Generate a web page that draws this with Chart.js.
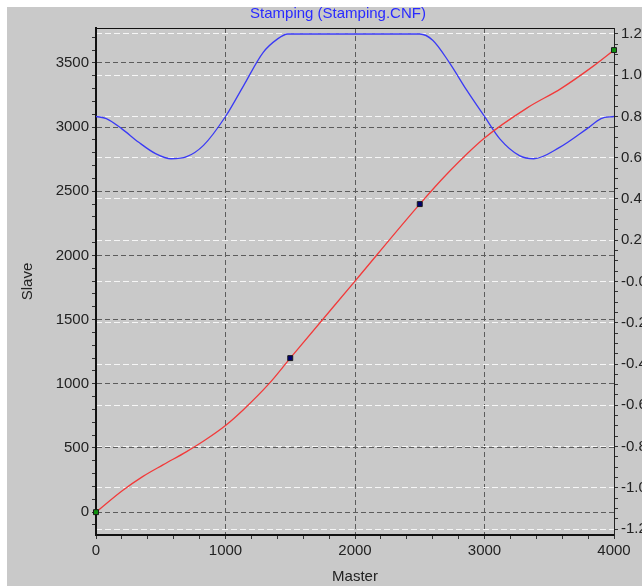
<!DOCTYPE html>
<html>
<head>
<meta charset="utf-8">
<script src="https://cdn.jsdelivr.net/npm/chart.js@4"></script>
<style>
  html, body { margin: 0; padding: 0; background: #fff; overflow: hidden; }
  #wrap { position: absolute; left: 0; top: 0; width: 676px; height: 586px; }
</style>
</head>
<body>
<div id="wrap"><canvas id="camChart" width="676" height="586"></canvas></div>
<script>
// red curve: slave position against master position
const masterRed = [0, 200, 360, 520, 700, 840, 1000, 1140, 1340, 1500, 2000, 2500, 2710, 3000, 3330, 3590, 3840, 4000];
const slaveValues = [0, 165, 277, 370, 472, 560, 675, 800, 1005, 1200, 1800, 2400, 2635, 2915, 3150, 3300, 3475, 3600];

// blue curve: ratio on the right axis
const masterBlue = [0, 80, 200, 330, 460, 580, 700, 830, 1000, 1140, 1290, 1400, 1480, 2500, 2600, 2730, 2860, 3000, 3120, 3270, 3380, 3580, 3790, 3900, 4000];
const ratioValues = [0.8, 0.79, 0.74, 0.675, 0.62, 0.595, 0.605, 0.66, 0.8, 0.95, 1.11, 1.175, 1.2, 1.2, 1.17, 1.06, 0.93, 0.8, 0.69, 0.61, 0.595, 0.65, 0.74, 0.79, 0.8];

// key points drawn as squares
const keyMaster = [0, 1500, 2500, 4000];
const keySlave = [0, 1200, 2400, 3600];
const keyColors = ['#109010', '#000070', '#000070', '#109010'];

// tick labels
const masterTicks = [0, 1000, 2000, 3000, 4000];
const slaveTicks = [0, 500, 1000, 1500, 2000, 2500, 3000, 3500];
const ratioTicks = [1.2, 1.0, 0.8, 0.6, 0.4, 0.2, 0, -0.2, -0.4, -0.6, -0.8, -1.0, -1.2];
const ratioLabels = ['1.20', '1.00', '0.80', '0.60', '0.40', '0.20', '-0.00', '-0.20', '-0.40', '-0.60', '-0.80', '-1.00', '-1.20'];

const DARK_GRID = '#5c5c5c';
const LIGHT_GRID = '#f6f6f6';
const CLEAR = 'rgba(0,0,0,0)';

const near = (a, b) => Math.abs(a - b) < 1e-6;
const isIn = (list, v) => list.some(t => near(t, v));

function minorTicks(scale, step, majors) {
    const out = [];
    const start = Math.ceil(scale.min / step - 1e-9);
    const end = Math.floor(scale.max / step + 1e-9);
    for (let i = start; i <= end; i++) {
        out.push({ value: Math.round(i * step * 1000) / 1000 });
    }
    majors.forEach(m => { if (!out.some(t => near(t.value, m))) out.push({ value: m }); });
    return out.sort((a, b) => a.value - b.value);
}

const panelBackground = {
    id: 'panelBackground',
    beforeDraw(chart) {
        const { ctx, width, height } = chart;
        ctx.save();
        ctx.fillStyle = '#ffffff';
        ctx.fillRect(0, 0, width, height);
        ctx.fillStyle = '#c9c9c9';
        ctx.fillRect(7, 7, width - 7, height - 7);
        ctx.restore();
    },
    afterDraw(chart) {
        const { ctx, chartArea } = chart;
        ctx.save();
        ctx.strokeStyle = '#111';
        ctx.lineWidth = 1;
        ctx.beginPath();
        ctx.moveTo(chartArea.left, chartArea.top + 0.5);
        ctx.lineTo(chartArea.right, chartArea.top + 0.5);
        ctx.stroke();
        ctx.restore();
    }
};

Chart.defaults.font.family = "'Liberation Sans', Arial, sans-serif";
Chart.defaults.font.size = 15;
Chart.defaults.color = '#222';

new Chart(document.getElementById('camChart'), {
    type: 'line',
    data: {
        datasets: [
            {
                label: 'Key points',
                data: keyMaster.map((m, i) => ({ x: m, y: keySlave[i] })),
                yAxisID: 'y',
                showLine: false,
                pointStyle: 'rect',
                pointRadius: 3.5,
                pointBackgroundColor: keyColors,
                pointBorderColor: '#1a1a1a',
                pointBorderWidth: 1,
                clip: false,
                order: 0
            },
            {
                label: 'Slave',
                data: masterRed.map((m, i) => ({ x: m, y: slaveValues[i] })),
                yAxisID: 'y',
                borderColor: '#f23a3a',
                borderWidth: 1.3,
                pointRadius: 0,
                cubicInterpolationMode: 'monotone',
                order: 1
            },
            {
                label: 'Ratio',
                data: masterBlue.map((m, i) => ({ x: m, y: ratioValues[i] })),
                yAxisID: 'y2',
                borderColor: '#3a3af5',
                borderWidth: 1.3,
                pointRadius: 0,
                cubicInterpolationMode: 'monotone',
                order: 2
            }
        ]
    },
    options: {
        responsive: false,
        animation: false,
        layout: { padding: 0 },
        plugins: {
            legend: { display: false },
            tooltip: { enabled: false },
            title: {
                display: true,
                text: 'Stamping (Stamping.CNF)',
                color: '#2a2aff',
                font: { size: 15, weight: 'normal' },
                padding: { top: 5, bottom: 5 }
            }
        },
        scales: {
            x: {
                type: 'linear',
                position: 'bottom',
                min: 0,
                max: 4000,
                afterBuildTicks: s => { s.ticks = minorTicks(s, 200, masterTicks); },
                afterFit: s => { s.height = 51; },
                ticks: {
                    autoSkip: false,
                    maxRotation: 0,
                    padding: 3,
                    callback: v => isIn(masterTicks, v) ? String(v) : ''
                },
                grid: {
                    color: c => (c.tick && isIn([1000, 2000, 3000], c.tick.value)) ? DARK_GRID : CLEAR,
                    tickColor: '#333',
                    tickLength: 4,
                    lineWidth: 1
                },
                border: { color: '#111', width: 2, dash: [5, 3] },
                title: { display: true, text: 'Master', padding: { top: 0, bottom: 0 } }
            },
            y: {
                type: 'linear',
                position: 'left',
                min: -178,
                max: 3772,
                afterBuildTicks: s => { s.ticks = minorTicks(s, 100, slaveTicks); },
                afterFit: s => { s.width = 96; },
                ticks: {
                    autoSkip: false,
                    padding: 3,
                    callback: v => isIn(slaveTicks, v) ? String(v) : ''
                },
                grid: {
                    color: c => (c.tick && isIn(slaveTicks, c.tick.value)) ? DARK_GRID : CLEAR,
                    tickColor: '#333',
                    tickLength: 4,
                    lineWidth: 1
                },
                border: { color: '#111', width: 2, dash: [5, 3] },
                title: { display: true, text: 'Slave', padding: { top: 19, bottom: 0 } }
            },
            y2: {
                type: 'linear',
                position: 'right',
                min: -1.229,
                max: 1.229,
                afterBuildTicks: s => { s.ticks = minorTicks(s, 0.05, ratioTicks); },
                afterFit: s => { s.width = 62; },
                ticks: {
                    autoSkip: false,
                    padding: 3,
                    callback: v => {
                        const i = ratioTicks.findIndex(t => near(t, v));
                        return i >= 0 ? ratioLabels[i] : '';
                    }
                },
                grid: {
                    color: c => (c.tick && isIn(ratioTicks, c.tick.value)) ? LIGHT_GRID : CLEAR,
                    tickColor: '#333',
                    tickLength: 4,
                    lineWidth: 1
                },
                border: { color: '#222', width: 1, dash: [6, 3] }
            }
        }
    },
    plugins: [panelBackground]
});
</script>
</body>
</html>
